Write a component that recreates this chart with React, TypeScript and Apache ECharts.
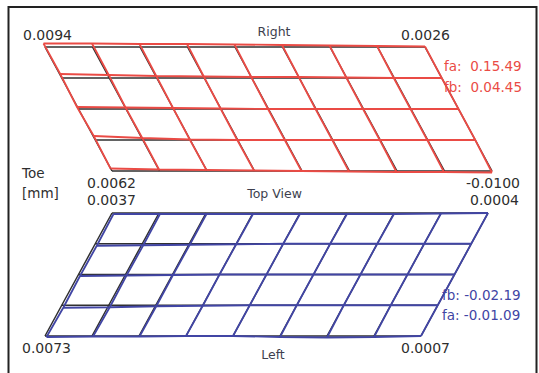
import React, { useEffect, useRef } from "react";
import * as echarts from "echarts";

const W = 539;
const H = 373;
const COLS = 8;
const ROWS = 4;

// Labels
const topCornerLabels = ["0.0094", "0.0026", "0.0062", "-0.0100"];
const bottomCornerLabels = ["0.0037", "0.0004", "0.0073", "0.0007"];
const viewLabels = ["Right", "Top View", "Left"];
const axisTitle = ["Toe", "[mm]"];
const rightAngles = ["fa:  0.15.49", "fb:  0.04.45"];
const leftAngles = ["fb: -0.02.19", "fa: -0.01.09"];

// Measured deflection of the red (right) grid nodes, rows top->bottom, cols left->right
const rightDy = [
  [-3.5, -3.5, -3, -3, -2.5, -2, -1.5, -1, -0.5],
  [-4, -3, -2, -1.5, -1, -1, -0.5, 0, 0],
  [-2, -1.5, -1, -0.5, 0, 0, 0, 0, 0],
  [-4, -2, -0.5, 0, 0, 0, 0, 0, 0],
  [-2.5, -1.5, -1, -0.5, 0, 0.5, 1, 1, 1.5],
];
const rightDx = [-1.5, -0.5, -0.5, -0.5, -0.5, -0.5, -0.5, -0.5, 0];

// Measured deflection of the blue (left) grid nodes
const leftDy = [
  [1, 1, 1, 1, 1, 1, 1, 0.5, 0],
  [2, 1.5, 1, 0.5, 0, 0, 0, 0, 0],
  [1.5, 1, 0.5, 0, 0, 0, 0, 0, 0],
  [2.5, 2, 1, 0.5, 0, 0, 0, 0, 0],
  [1, 0.5, 0.5, 0, 0, 1, 1.5, 1, 0],
];
const leftDx = [1.5, 1, 0.5, 0, 0, 0, 0, 0, 0];

type GridGeom = { ox: number; oy: number; colW: number; rowH: number; skew: number };

const topGeom: GridGeom = { ox: 45, oy: 47, colW: 47.5, rowH: 31, skew: 16.75 };
const botGeom: GridGeom = { ox: 112, oy: 213, colW: 47, rowH: 30.75, skew: -16.75 };

function node(g: GridGeom, i: number, j: number, dx?: number[], dy?: number[][]) {
  const x = g.ox + i * g.colW + j * g.skew + (dx ? dx[i] : 0);
  const y = g.oy + j * g.rowH + (dy ? dy[j][i] : 0);
  return [x, y];
}

function gridSeries(g: GridGeom, color: string, width: number, z: number, dx?: number[], dy?: number[][]) {
  const out: any[] = [];
  for (let j = 0; j <= ROWS; j++) {
    const data: number[][] = [];
    for (let i = 0; i <= COLS; i++) data.push(node(g, i, j, dx, dy));
    out.push({
      type: "line", data, symbol: "none", showSymbol: false, silent: true, z,
      lineStyle: { color, width }, animation: false,
    });
  }
  for (let i = 0; i <= COLS; i++) {
    const data: number[][] = [];
    for (let j = 0; j <= ROWS; j++) data.push(node(g, i, j, dx, dy));
    out.push({
      type: "line", data, symbol: "none", showSymbol: false, silent: true, z,
      lineStyle: { color, width }, animation: false,
    });
  }
  return out;
}

const FONT = "DejaVu Sans, Verdana, sans-serif";

function txt(text: string, x: number, y: number, fill: string, size: number, align = "left") {
  return {
    type: "text",
    x,
    y,
    silent: true,
    z: 100,
    style: {
      text,
      fill,
      font: `${size}px ${FONT}`,
      textAlign: align,
      textVerticalAlign: "middle",
    },
  };
}

export default function App() {
  const ref = useRef<HTMLDivElement>(null);
  useEffect(() => {
    if (!ref.current) return;
    const chart = echarts.init(ref.current, undefined, { renderer: "svg" });
    const dark = "#2e2e2e";
    const head = "#3d3f4e";
    const red = "#ea4b45";
    const blue = "#4145a4";
    const series = [
      ...gridSeries(topGeom, "#303030", 1.5, 1),
      ...gridSeries(topGeom, red, 1.8, 2, rightDx, rightDy),
      ...gridSeries(botGeom, "#303030", 1.5, 1),
      ...gridSeries(botGeom, blue, 1.8, 2, leftDx, leftDy),
    ];
    chart.setOption({
      animation: false,
      grid: { left: 0, right: 0, top: 0, bottom: 0 },
      xAxis: { type: "value", min: 0, max: W, show: false },
      yAxis: { type: "value", min: 0, max: H, inverse: true, show: false },
      series,
      graphic: [
        {
          type: "rect",
          shape: { x: 8.5, y: 7, width: 528, height: 400 },
          style: { fill: "none", stroke: "#222", lineWidth: 2 },
          silent: true,
          z: 50,
        },
        txt(topCornerLabels[0], 23, 35, dark, 14),
        txt(viewLabels[0], 274, 31, head, 12.5, "center"),
        txt(topCornerLabels[1], 401, 35, dark, 14),
        txt(rightAngles[0], 444, 66, red, 13.5),
        txt(rightAngles[1], 444, 87, red, 13.5),
        txt(axisTitle[0], 22, 173, dark, 13.5),
        txt(axisTitle[1], 22, 193, dark, 13.5),
        txt(topCornerLabels[2], 87, 183, dark, 14),
        txt(bottomCornerLabels[0], 87, 200, dark, 14),
        txt(viewLabels[1], 274.5, 193, head, 12.5, "center"),
        txt(topCornerLabels[3], 520, 183, dark, 14, "right"),
        txt(bottomCornerLabels[1], 519, 200, dark, 14, "right"),
        txt(leftAngles[0], 442, 295, blue, 13.5),
        txt(leftAngles[1], 442, 314.5, blue, 13.5),
        txt(bottomCornerLabels[2], 22, 348, dark, 14),
        txt(viewLabels[2], 273, 354, head, 12.5, "center"),
        txt(bottomCornerLabels[3], 401, 348, dark, 14),
      ],
    });
    return () => chart.dispose();
  }, []);
  return (
    <div
      ref={ref}
      style={{ position: "absolute", left: 0, top: 0, width: W, height: H, background: "#fff" }}
    />
  );
}
